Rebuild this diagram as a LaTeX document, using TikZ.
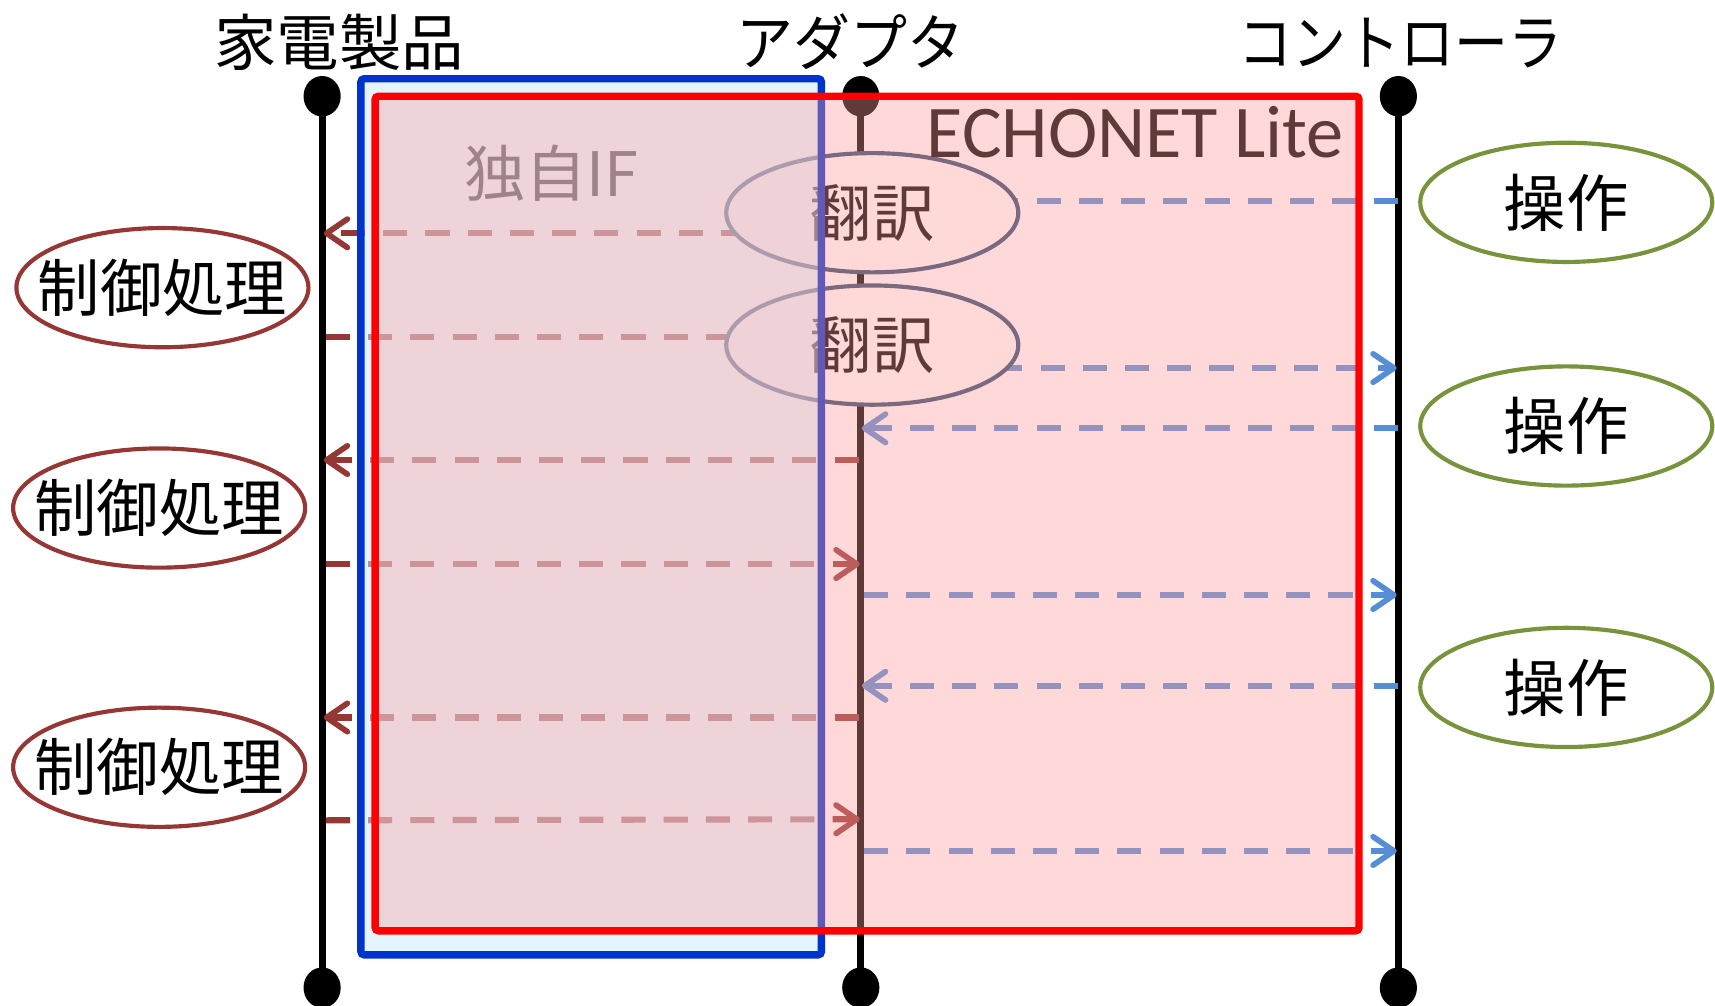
\documentclass[tikz,border=0pt]{standalone}
\usepackage{fontspec}
\newfontfamily\jpfont{Noto Sans CJK JP}
\newfontfamily\calfont{Carlito}
\usetikzlibrary{shapes.geometric,arrows.meta}
\definecolor{darkred}{RGB}{149,55,53}
\definecolor{ogreen}{RGB}{119,147,60}
\definecolor{lblue}{RGB}{85,142,213}
\definecolor{boxblue}{RGB}{0,51,204}
\definecolor{boxbluefill}{RGB}{204,236,255}
\definecolor{boxredfill}{RGB}{255,154,154}
\definecolor{trgray}{RGB}{42,77,112}
\newcommand{\btext}[1]{\makebox[0pt]{\raisebox{-2pt}{#1}}}
\begin{document}
\begin{tikzpicture}[x=0.5pt,y=-0.5pt,
  lifeline/.style={line width=3.3pt,black},
  enddot/.style={ellipse,fill=black,inner sep=0pt,minimum width=17pt,minimum height=18.5pt},
  title/.style={font=\jpfont\fontsize{28pt}{30pt}\selectfont,inner sep=0pt},
  bubble/.style={ellipse,line width=1.9pt,inner sep=0pt,minimum width=133.5pt,minimum height=54.5pt,
     font=\jpfont\fontsize{28.5pt}{30pt}\selectfont},
  ctrl/.style={bubble,draw=darkred},
  oper/.style={bubble,draw=ogreen},
  trans/.style={bubble,draw=trgray,fill=white},
  msgbase/.style={line width=2.8pt,dash pattern=on 11pt off 8.3pt,
     -{Straight Barb[length=9.5pt,width=13pt,line width=2.6pt,round]}},
  redmsg/.style={msgbase,darkred},
  bluemsg/.style={msgbase,lblue},
  ]
\useasboundingbox (0,0) rectangle (1568,919);

% lifelines
\node[enddot] (hTop) at (294.5,88) {};
\node[enddot] (hBot) at (294.5,903) {};
\node[enddot] (aTop) at (787,88) {};
\node[enddot] (aBot) at (787,903) {};
\node[enddot] (cTop) at (1278.5,88) {};
\node[enddot] (cBot) at (1278.5,903) {};
\draw[lifeline] (hTop.center) -- (hBot.center);
\draw[lifeline] (aTop.center) -- (aBot.center);
\draw[lifeline] (cTop.center) -- (cBot.center);

% titles
\node[title] (tH) at (310,39) {\scalebox{1.02}[1]{家電製品}};
\node[title] (tA) at (777.5,38) {\scalebox{0.93}[1]{アダプタ}};
\node[title] (tC) at (1280.5,39) {\scalebox{0.88}[1]{コントローラ}};

% arrow end points on lifelines
\coordinate (c1) at (1278.5,183.5);
\coordinate (t1a) at (797,183.5);
\coordinate (t1b) at (797,213.3);
\coordinate (h2) at (296,213.3);
\coordinate (h3) at (298,308.4);
\coordinate (t2a) at (797,308.4);
\coordinate (t2b) at (797,336.5);
\coordinate (c4) at (1277,336.5);
\coordinate (c5) at (1278.5,391.6);
\coordinate (a5) at (788,391.6);
\coordinate (a6) at (785,420.6);
\coordinate (h6) at (296,420.6);
\coordinate (h7) at (298,515.7);
\coordinate (a7) at (786,515.7);
\coordinate (a8) at (790,544);
\coordinate (c8) at (1277,544);
\coordinate (c9) at (1278.5,627);
\coordinate (a9) at (788,627);
\coordinate (a10) at (785,656);
\coordinate (h10) at (296,656);
\coordinate (h11) at (298,750);
\coordinate (a11) at (786,749);
\coordinate (a12) at (790,778);
\coordinate (c12) at (1277,778);

% messages
\draw[bluemsg] (c1) -- (t1a);
\draw[redmsg] (t1b) -- (h2);
\draw[redmsg] (h3) -- (t2a);
\draw[bluemsg] (t2b) -- (c4);
\draw[bluemsg] (c5) -- (a5);
\draw[redmsg] (a6) -- (h6);
\draw[redmsg] (h7) -- (a7);
\draw[bluemsg] (a8) -- (c8);
\draw[bluemsg] (c9) -- (a9);
\draw[redmsg] (a10) -- (h10);
\draw[redmsg] (h11) -- (a11);
\draw[bluemsg] (a12) -- (c12);

% bubbles
\node[ctrl] (p1) at (148.5,263) {\btext{制御処理}};
\node[ctrl] (p2) at (145.5,464.5) {\btext{制御処理}};
\node[ctrl] (p3) at (145.5,701.5) {\btext{制御処理}};
\node[oper] (o1) at (1432,185) {\btext{操作}};
\node[oper] (o2) at (1432,389.5) {\btext{操作}};
\node[oper] (o3) at (1432,628.5) {\btext{操作}};
\node[trans] (tr1) at (797.5,194.5) {\btext{翻訳}};
\node[trans] (tr2) at (797.5,315.5) {\btext{翻訳}};

% area labels
\node[font=\jpfont\fontsize{28pt}{30pt}\selectfont,inner sep=0pt] (lif) at (504,158) {独自IF};
\node[font=\calfont\fontsize{34pt}{36pt}\selectfont,inner sep=0pt] (lecho) at (1038,121) {ECHONET Lite};

% boxes
\draw[draw=boxblue,fill=boxbluefill,fill opacity=0.5,line width=3.4pt,rounded corners=1.5pt]
  (330,72) rectangle (751,873);
\fill[boxredfill,fill opacity=0.376] (343,88) rectangle (1242.5,851);
\draw[red,line width=3.4pt,rounded corners=1.5pt] (343,88) rectangle (1242.5,851);
\end{tikzpicture}
\end{document}
